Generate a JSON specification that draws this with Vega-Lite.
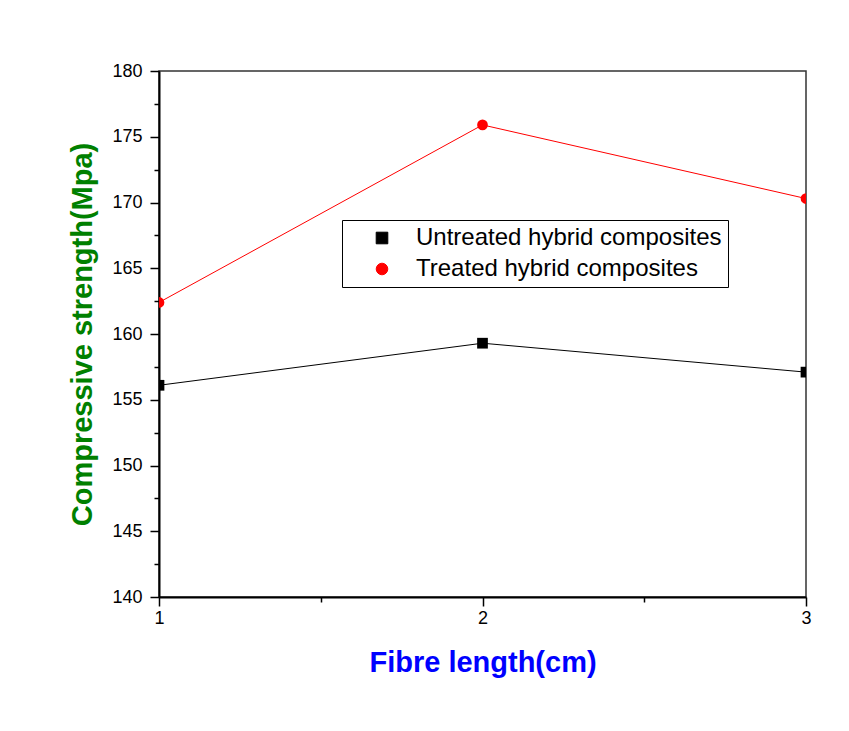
{
  "$schema": "https://vega.github.io/schema/vega-lite/v6.json",
  "width": 647,
  "height": 526,
  "autosize": {"type": "none"},
  "padding": {"left": 159, "top": 71, "right": 43, "bottom": 134},
  "background": "white",
  "config": {"view": {"stroke": "#333333", "strokeWidth": 1.5}, "font": "Liberation Sans"},
  "data": {
    "values": [
      {"fibre": 1, "strength": 156.1, "series": "Untreated hybrid composites"},
      {"fibre": 2, "strength": 159.3, "series": "Untreated hybrid composites"},
      {"fibre": 3, "strength": 157.1, "series": "Untreated hybrid composites"},
      {"fibre": 1, "strength": 162.4, "series": "Treated hybrid composites"},
      {"fibre": 2, "strength": 175.9, "series": "Treated hybrid composites"},
      {"fibre": 3, "strength": 170.3, "series": "Treated hybrid composites"}
    ]
  },
  "encoding": {
    "x": {
      "field": "fibre",
      "type": "quantitative",
      "scale": {"domain": [1, 3], "nice": false, "zero": false},
      "axis": {
        "title": "Fibre length(cm)",
        "values": [1, 1.5, 2, 2.5, 3],
        "labelExpr": "datum.value % 1 === 0 ? format(datum.value, 'd') : ''",
        "grid": false,
        "domainColor": "black",
        "domainWidth": 2,
        "tickColor": "black",
        "tickWidth": 1.5,
        "tickSize": {"condition": {"test": "datum.value % 1 === 0", "value": 9}, "value": 5},
        "labelFont": "Liberation Sans",
        "labelFontSize": 18,
        "labelColor": "black",
        "labelPadding": 3,
        "labelFlush": false,
        "titleFont": "Liberation Sans",
        "titleFontSize": 29,
        "titleFontWeight": "bold",
        "titleColor": "#0000FF",
        "titlePadding": 21
      }
    },
    "y": {
      "field": "strength",
      "type": "quantitative",
      "scale": {"domain": [140, 180], "nice": false, "zero": false},
      "axis": {
        "title": "Compressive strength(Mpa)",
        "values": [140, 142.5, 145, 147.5, 150, 152.5, 155, 157.5, 160, 162.5, 165, 167.5, 170, 172.5, 175, 177.5, 180],
        "labelExpr": "datum.value % 5 === 0 ? format(datum.value, 'd') : ''",
        "grid": false,
        "domainColor": "black",
        "domainWidth": 2,
        "tickColor": "black",
        "tickWidth": 1.5,
        "tickSize": {"condition": {"test": "datum.value % 5 === 0", "value": 9}, "value": 5},
        "labelFont": "Liberation Sans",
        "labelFontSize": 18,
        "labelColor": "black",
        "labelPadding": 8,
        "labelFlush": false,
        "titleFont": "Liberation Sans",
        "titleFontSize": 29,
        "titleFontWeight": "bold",
        "titleColor": "#008000",
        "titlePadding": 14
      }
    },
    "color": {
      "field": "series",
      "type": "nominal",
      "scale": {"domain": ["Untreated hybrid composites", "Treated hybrid composites"], "range": ["black", "#FF0000"]},
      "legend": {
        "orient": "none",
        "legendX": 183,
        "legendY": 149,
        "title": null,
        "strokeColor": "black",
        "fillColor": "white",
        "padding": 6,
        "labelFont": "Liberation Sans",
        "labelFontSize": 24,
        "labelColor": "black",
        "labelLimit": 0,
        "symbolSize": 135,
        "symbolOffset": 22,
        "labelOffset": 22,
        "rowPadding": 7,
        "symbolStrokeWidth": 1
      }
    }
  },
  "layer": [
    {"mark": {"type": "line", "strokeWidth": 1, "clip": true}},
    {
      "mark": {"type": "point", "filled": true, "opacity": 1, "size": 115, "clip": true},
      "encoding": {
        "shape": {
          "field": "series",
          "type": "nominal",
          "scale": {"domain": ["Untreated hybrid composites", "Treated hybrid composites"], "range": ["square", "circle"]},
          "legend": null
        }
      }
    }
  ]
}
